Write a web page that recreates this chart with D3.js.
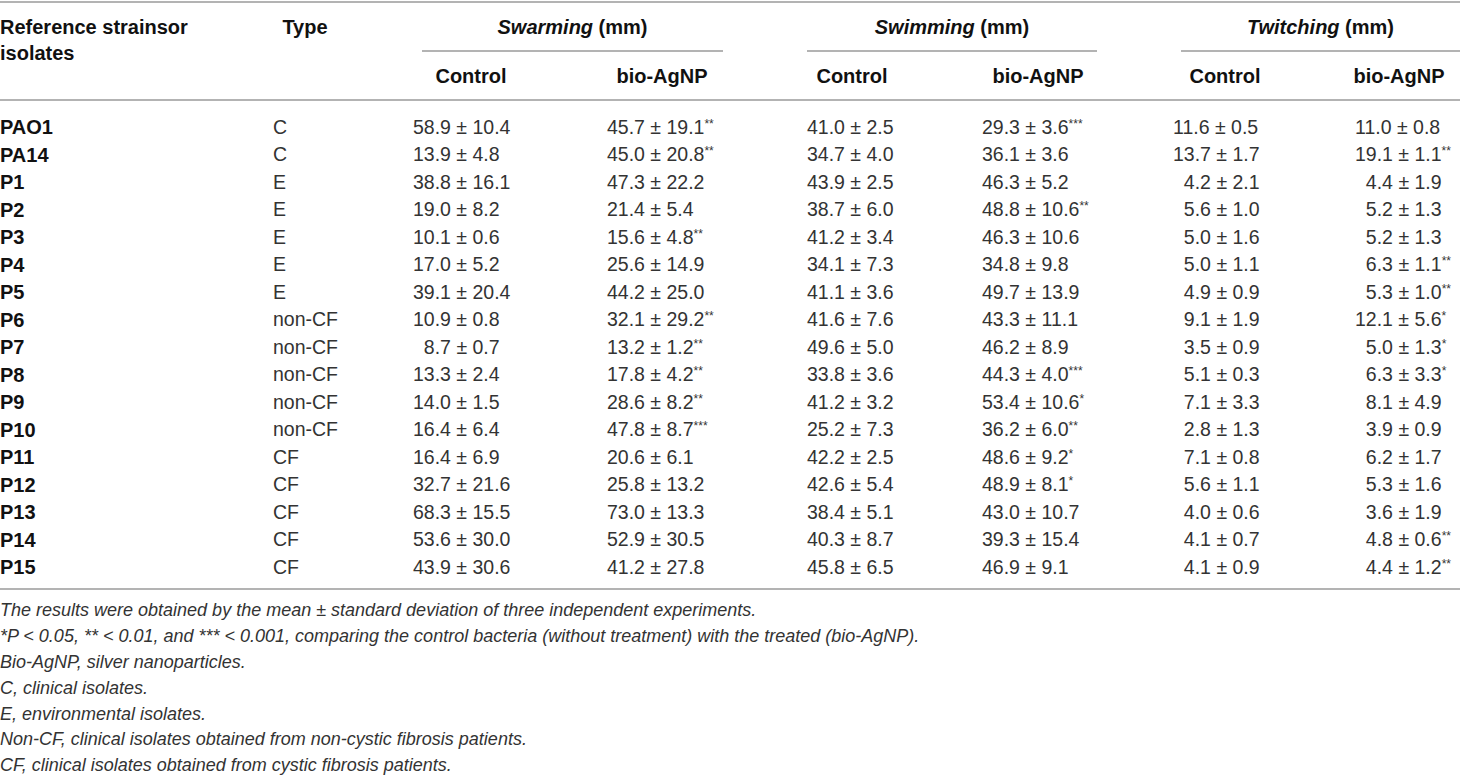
<!DOCTYPE html>
<html>
<head>
<meta charset="utf-8">
<script src="https://cdn.jsdelivr.net/npm/d3@7"></script>
<style>
  body { margin: 0; background: #fff; }
  svg text { font-family: "Liberation Sans", Arial, sans-serif; }
  .hd { font-weight: bold; fill: #111; font-size: 20px; }
  .val { fill: #333; font-size: 19.5px; }
  .note { fill: #333; font-size: 18px; font-style: italic; }
</style>
</head>
<body>
<div id="chart"></div>
<script>
const strains = ["PAO1", "PA14", "P1", "P2", "P3", "P4", "P5", "P6", "P7", "P8", "P9", "P10", "P11", "P12", "P13", "P14", "P15"];
const types = ["C", "C", "E", "E", "E", "E", "E", "non-CF", "non-CF", "non-CF", "non-CF", "non-CF", "CF", "CF", "CF", "CF", "CF"];

const swarmCtrlMean = [58.9, 13.9, 38.8, 19.0, 10.1, 17.0, 39.1, 10.9, 8.7, 13.3, 14.0, 16.4, 16.4, 32.7, 68.3, 53.6, 43.9];
const swarmCtrlSd   = [10.4, 4.8, 16.1, 8.2, 0.6, 5.2, 20.4, 0.8, 0.7, 2.4, 1.5, 6.4, 6.9, 21.6, 15.5, 30.0, 30.6];
const swarmBioMean  = [45.7, 45.0, 47.3, 21.4, 15.6, 25.6, 44.2, 32.1, 13.2, 17.8, 28.6, 47.8, 20.6, 25.8, 73.0, 52.9, 41.2];
const swarmBioSd    = [19.1, 20.8, 22.2, 5.4, 4.8, 14.9, 25.0, 29.2, 1.2, 4.2, 8.2, 8.7, 6.1, 13.2, 13.3, 30.5, 27.8];
const swarmBioSig   = ["**", "**", "", "", "**", "", "", "**", "**", "**", "**", "***", "", "", "", "", ""];

const swimCtrlMean = [41.0, 34.7, 43.9, 38.7, 41.2, 34.1, 41.1, 41.6, 49.6, 33.8, 41.2, 25.2, 42.2, 42.6, 38.4, 40.3, 45.8];
const swimCtrlSd   = [2.5, 4.0, 2.5, 6.0, 3.4, 7.3, 3.6, 7.6, 5.0, 3.6, 3.2, 7.3, 2.5, 5.4, 5.1, 8.7, 6.5];
const swimBioMean  = [29.3, 36.1, 46.3, 48.8, 46.3, 34.8, 49.7, 43.3, 46.2, 44.3, 53.4, 36.2, 48.6, 48.9, 43.0, 39.3, 46.9];
const swimBioSd    = [3.6, 3.6, 5.2, 10.6, 10.6, 9.8, 13.9, 11.1, 8.9, 4.0, 10.6, 6.0, 9.2, 8.1, 10.7, 15.4, 9.1];
const swimBioSig   = ["***", "", "", "**", "", "", "", "", "", "***", "*", "**", "*", "*", "", "", ""];

const twitCtrlMean = [11.6, 13.7, 4.2, 5.6, 5.0, 5.0, 4.9, 9.1, 3.5, 5.1, 7.1, 2.8, 7.1, 5.6, 4.0, 4.1, 4.1];
const twitCtrlSd   = [0.5, 1.7, 2.1, 1.0, 1.6, 1.1, 0.9, 1.9, 0.9, 0.3, 3.3, 1.3, 0.8, 1.1, 0.6, 0.7, 0.9];
const twitBioMean  = [11.0, 19.1, 4.4, 5.2, 5.2, 6.3, 5.3, 12.1, 5.0, 6.3, 8.1, 3.9, 6.2, 5.3, 3.6, 4.8, 4.4];
const twitBioSd    = [0.8, 1.1, 1.9, 1.3, 1.3, 1.1, 1.0, 5.6, 1.3, 3.3, 4.9, 0.9, 1.7, 1.6, 1.9, 0.6, 1.2];
const twitBioSig   = ["", "**", "", "", "", "**", "**", "*", "*", "*", "", "", "", "", "", "**", "**"];

const groups = ["Swarming", "Swimming", "Twitching"];
const subHeads = ["Control", "bio-AgNP"];

const footnotes = [
  "The results were obtained by the mean \u00b1 standard deviation of three independent experiments.",
  "*P < 0.05, ** < 0.01, and *** < 0.001, comparing the control bacteria (without treatment) with the treated (bio-AgNP).",
  "Bio-AgNP, silver nanoparticles.",
  "C, clinical isolates.",
  "E, environmental isolates.",
  "Non-CF, clinical isolates obtained from non-cystic fibrosis patients.",
  "CF, clinical isolates obtained from cystic fibrosis patients."
];

const width = 1460, height = 776;
const svg = d3.select("#chart").append("svg").attr("width", width).attr("height", height);

// value columns: left edge of text + header centre
const cols = [
  {mean: swarmCtrlMean, sd: swarmCtrlSd, sig: null, x: 413, hx: 471},
  {mean: swarmBioMean, sd: swarmBioSd, sig: swarmBioSig, x: 607, hx: 662},
  {mean: swimCtrlMean, sd: swimCtrlSd, sig: null, x: 807, hx: 852},
  {mean: swimBioMean, sd: swimBioSd, sig: swimBioSig, x: 982, hx: 1038},
  {mean: twitCtrlMean, sd: twitCtrlSd, sig: null, x: 1173, hx: 1225},
  {mean: twitBioMean, sd: twitBioSd, sig: twitBioSig, x: 1355, hx: 1399}
];
const spanners = [
  {x1: 422, x2: 723},
  {x1: 807, x2: 1097},
  {x1: 1181, x2: 1460}
];

const y = d3.scalePoint().domain(strains).range([127, 567]);
const yNote = d3.scalePoint().domain(d3.range(footnotes.length)).range([610, 765]);

const rule = "#9a9a9a";
function hline(x1, x2, yy) {
  svg.append("line").attr("x1", x1).attr("x2", x2).attr("y1", yy).attr("y2", yy)
    .attr("stroke", rule).attr("stroke-width", 1.6);
}
hline(0, width, 2);
hline(0, width, 100);
hline(0, width, 589);
spanners.forEach(s => hline(s.x1, s.x2, 51));

// header
svg.append("text").attr("class", "hd").attr("x", 0).attr("y", 27).attr("dy", "0.35em").text("Reference strainsor");
svg.append("text").attr("class", "hd").attr("x", 0).attr("y", 53).attr("dy", "0.35em").text("isolates");
svg.append("text").attr("class", "hd").attr("x", 305).attr("y", 27).attr("dy", "0.35em").attr("text-anchor", "middle").text("Type");

groups.forEach((g, i) => {
  const t = svg.append("text").attr("class", "hd").attr("x", (spanners[i].x1 + spanners[i].x2) / 2)
    .attr("y", 27).attr("dy", "0.35em").attr("text-anchor", "middle");
  t.append("tspan").attr("font-style", "italic").text(g);
  t.append("tspan").text(" (mm)");
});

cols.forEach((c, i) => {
  svg.append("text").attr("class", "hd").attr("x", c.hx).attr("y", 76).attr("dy", "0.35em")
    .attr("text-anchor", "middle").text(subHeads[i % 2]);
});

// body
svg.selectAll("text.strain").data(strains).join("text").attr("class", "hd strain")
  .attr("x", 0).attr("y", d => y(d)).attr("dy", "0.35em").text(d => d);

svg.selectAll("text.type").data(types).join("text").attr("class", "val type")
  .attr("x", 273).attr("y", (d, i) => y(strains[i])).attr("dy", "0.35em").text(d => d);

// figure width for padding single-digit means
const probe = svg.append("text").attr("class", "val").text("0");
const digitW = probe.node().getComputedTextLength();
probe.remove();

const fmt = d3.format(".1f");
cols.forEach(c => {
  const t = svg.append("g").selectAll("text").data(c.mean).join("text").attr("class", "val")
    .attr("x", d => c.x + (d < 10 ? digitW : 0))
    .attr("y", (d, i) => y(strains[i])).attr("dy", "0.35em");
  t.append("tspan").text((d, i) => `${fmt(d)} \u00b1 ${fmt(c.sd[i])}`);
  if (c.sig) {
    t.append("tspan").attr("font-size", "12px").attr("dy", "-6").text((d, i) => c.sig[i]);
  }
});

// footnotes
svg.selectAll("text.note").data(footnotes).join("text").attr("class", "note")
  .attr("x", 0).attr("y", (d, i) => yNote(i)).attr("dy", "0.35em").text(d => d);
</script>
</body>
</html>
